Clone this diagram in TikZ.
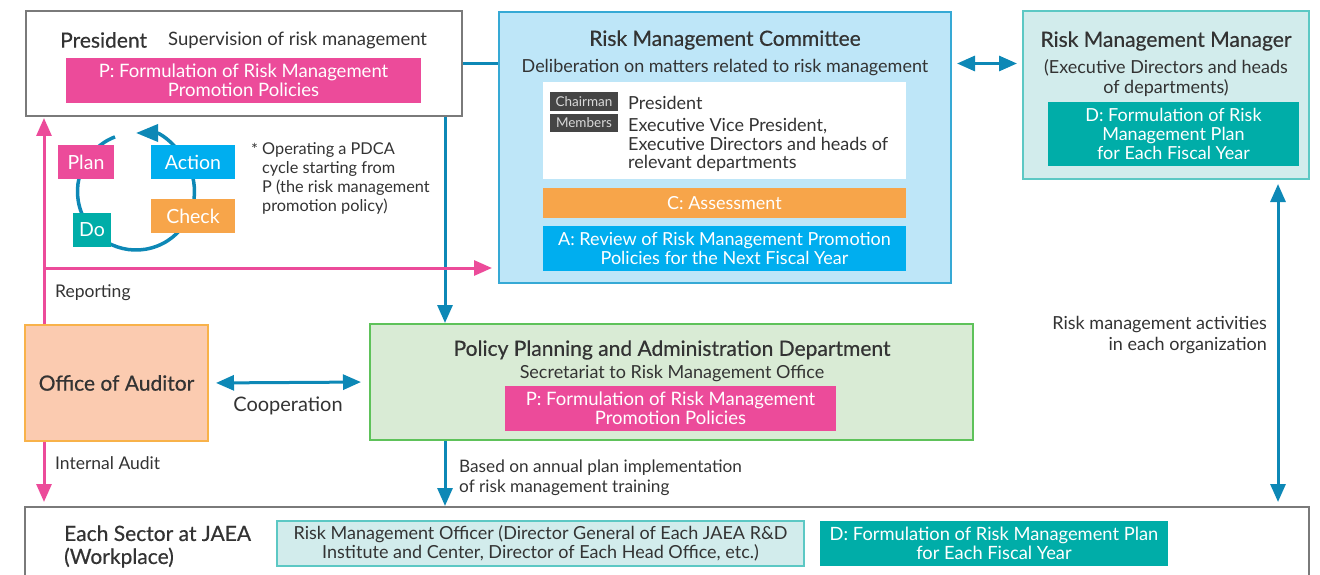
\documentclass[tikz,border=0pt]{standalone}
\usepackage{fontspec}
\setmainfont{Lato}
\newfontfamily\medfont[FakeBold=0.5]{Lato}
\usetikzlibrary{arrows.meta}
\definecolor{txt}{HTML}{333333}
\definecolor{grayb}{HTML}{7A7A7A}
\definecolor{comfill}{HTML}{BEE6F8}
\definecolor{comline}{HTML}{36A9D5}
\definecolor{manfill}{HTML}{D2ECEC}
\definecolor{manline}{HTML}{5CC8C4}
\definecolor{polfill}{HTML}{D9EBD5}
\definecolor{polline}{HTML}{5EC25A}
\definecolor{audfill}{HTML}{FBCBB0}
\definecolor{audline}{HTML}{F8B24A}
\definecolor{pinkc}{HTML}{EC4B9A}
\definecolor{orangec}{HTML}{F7A54A}
\definecolor{bluec}{HTML}{00AEEF}
\definecolor{tealc}{HTML}{00ADA8}
\definecolor{arrowb}{HTML}{0D88B6}
\definecolor{tagc}{HTML}{454545}
\tikzset{
  frame/.style n args={2}{rectangle, draw=#1, fill=#2, line width=2pt, inner sep=0pt},
  fillbox/.style={rectangle, fill=#1, inner sep=0pt, text=white, align=center, font=\fontsize{18.5}{19}\selectfont},
  tagbox/.style={rectangle, fill=tagc, text=white!85!black, inner sep=0pt, minimum width=68, font=\fontsize{13.5}{15}\selectfont},
  ttl/.style={font={\medfont\fontsize{21}{23}\selectfont}, inner sep=0pt},
  txtn/.style={inner sep=0pt, align=center},
  small/.style={inner sep=0pt, align=left, font=\fontsize{17.5}{20}\selectfont},
  pdcabox/.style={rectangle, fill=#1, inner sep=0pt, text=white, font=\fontsize{19.5}{21}\selectfont, minimum height=34},
  bline/.style={draw=arrowb, line width=3pt},
  barrow/.style={draw=arrowb, line width=3pt, -{Triangle[length=18pt,width=15pt]}},
  bdarrow/.style={draw=arrowb, line width=3pt, {Triangle[length=18pt,width=15pt]}-{Triangle[length=18pt,width=15pt]}},
  parrow/.style={draw=pinkc, line width=3pt, -{Triangle[length=18pt,width=15pt]}},
  cyclearrow/.style={draw=arrowb, line width=3.5pt, -{Triangle[length=22pt,width=17pt]}},
}
\begin{document}
\begin{tikzpicture}[x=1pt,y=-1pt, font=\fontsize{18}{19}\selectfont, text=txt]
\useasboundingbox (0,0) rectangle (1320,575);
\clip (0,0) rectangle (1320,575);
% helper coordinates
\coordinate (vx) at (445,0);
\coordinate (px) at (44,0);
\coordinate (rx) at (1278,0);
\coordinate (rep) at (44,268);
\coordinate (cyc) at (136,191.5);

% President
\node[frame={grayb}{white}, minimum width=436, minimum height=105] (pres) at (244,63.5) {};
\node[ttl, anchor=west] (presT) at (60,40) {President};
\node[txtn, anchor=west, font=\fontsize{18.5}{20}\selectfont] (presS) at (168,40) {Supervision of risk management};
\node[fillbox=pinkc, minimum width=355, minimum height=45] (presP) at (243.5,80.5) {P: Formulation of Risk Management\\Promotion Policies};

% Committee
\node[frame={comline}{comfill}, minimum width=452, minimum height=271] (com) at (725,147.5) {};
\node[ttl] (comT) at (725,40) {Risk Management Committee};
\node[txtn] (comS) at (725,68) {Deliberation on matters related to risk management};
\node[rectangle, fill=white, inner sep=0pt, minimum width=363, minimum height=97] (white) at (724.5,130.5) {};
\node[tagbox, minimum height=19] (chair) at (584,101.5) {Chairman};
\node[tagbox, minimum height=18] (mem) at (584,123) {Members};
\node[txtn, anchor=west] (chairT) at (628,103) {President};
\node[inner sep=0pt, align=left, anchor=west, font=\fontsize{18}{18.5}\selectfont] (memT) at (628,145) {Executive Vice President,\\Executive Directors and heads of\\relevant departments};
\node[fillbox=orangec, minimum width=363, minimum height=30, font=\fontsize{18}{19}\selectfont] (C) at (724.5,203) {C: Assessment};
\node[fillbox=bluec, minimum width=363, minimum height=45, font=\fontsize{18}{19}\selectfont] (A) at (724.5,248.5) {A: Review of Risk Management Promotion\\Policies for the Next Fiscal Year};

% Manager
\node[frame={manline}{manfill}, minimum width=286, minimum height=168] (man) at (1166,95) {};
\node[ttl] (manT) at (1166,41) {Risk Management Manager};
\node[txtn, font=\fontsize{18}{20}\selectfont] (manS) at (1166,78) {(Executive Directors and heads\\of departments)};
\node[fillbox=tealc, minimum width=251, minimum height=64, font=\fontsize{18}{19}\selectfont] (manD) at (1173.5,134) {D: Formulation of Risk\\Management Plan\\for Each Fiscal Year};

% Policy planning
\node[frame={polline}{polfill}, minimum width=603, minimum height=116] (pol) at (671.5,382) {};
\node[ttl] (polT) at (672,350) {Policy Planning and Administration Department};
\node[txtn] (polS) at (672,374) {Secretariat to Risk Management Office};
\node[fillbox=pinkc, minimum width=331, minimum height=45] (polP) at (670.5,408.5) {P: Formulation of Risk Management\\Promotion Policies};

% Auditor
\node[frame={audline}{audfill}, minimum width=183, minimum height=116, font={\medfont\fontsize{21}{23}\selectfont}] (aud) at (116.5,383) {Office of Auditor};

% Each sector
\node[frame={grayb}{white}, minimum width=1284, minimum height=83] (sec) at (667,548.5) {};
\node[ttl, align=left, anchor=west, font={\medfont\fontsize{21}{23}\selectfont}] (secT) at (64,546.5) {Each Sector at JAEA\\(Workplace)};
\node[frame={manline}{manfill}, minimum width=527, minimum height=45, align=center, font=\fontsize{18}{19}\selectfont] (off) at (540.5,543.5) {Risk Management Officer (Director General of Each JAEA R\&D\\Institute and Center, Director of Each Head Office, etc.)};
\node[fillbox=tealc, minimum width=348, minimum height=45, font=\fontsize{18.3}{19}\selectfont] (secD) at (994,543.5) {D: Formulation of Risk Management Plan\\for Each Fiscal Year};

% PDCA cycle
\draw[cyclearrow] ([shift={(-111:58.5)}]cyc) arc[start angle=-111, end angle=-450, radius=58.5];
\node[pdcabox=pinkc, minimum width=56] (plan) at (86,162) {Plan};
\node[pdcabox=bluec, minimum width=84] (act) at (193,162) {Action};
\node[pdcabox=orangec, minimum width=84] (chk) at (193,216) {Check};
\node[pdcabox=tealc, minimum width=38] (do) at (92,230) {Do};
\node[inner sep=0pt, anchor=north west, font=\fontsize{16.3}{19}\selectfont] (ast) at (251,143) {*};
\node[inner sep=0pt, align=left, anchor=west, font=\fontsize{16.3}{19}\selectfont] (pdcaT) at (262,178.5) {Operating a PDCA\\cycle starting from\\P (the risk management\\promotion policy)};

% Connectors
\draw[bline] (pres.east) -- (pres.east -| com.west);
\draw[barrow] (vx |- pres.south) -- (vx |- pol.north);
\draw[barrow] (vx |- pol.south) -- (vx |- sec.north);
\draw[bdarrow, shorten <=5pt, shorten >=5pt] (com.east |- pres.east) -- (man.west |- pres.east);
\draw[bdarrow, shorten <=7pt, shorten >=8pt] (aud.east) -- (pol.west);
\draw[bdarrow, shorten <=4pt, shorten >=4pt] (rx |- man.south) -- (rx |- sec.north);
\draw[parrow, shorten >=1pt] (px |- aud.north) -- (px |- pres.south);
\draw[parrow, shorten >=6pt] (rep) -- (rep -| com.west);
\draw[parrow, shorten >=4pt] (px |- aud.south) -- (px |- sec.north);

% Labels
\node[small, anchor=west] (repL) at (55,293) {Reporting};
\node[small, anchor=west] (iaL) at (55,463) {Internal Audit};
\node[txtn, font=\fontsize{20}{21}\selectfont] (coL) at (288,406) {Cooperation};
\node[small, anchor=west, font=\fontsize{17.2}{20}\selectfont] (trL) at (459,478) {Based on annual plan implementation\\of risk management training};
\node[small, anchor=east, align=right, font=\fontsize{18}{21}\selectfont] (actL) at (1267,335.5) {Risk management activities\\in each organization};
\end{tikzpicture}
\end{document}
